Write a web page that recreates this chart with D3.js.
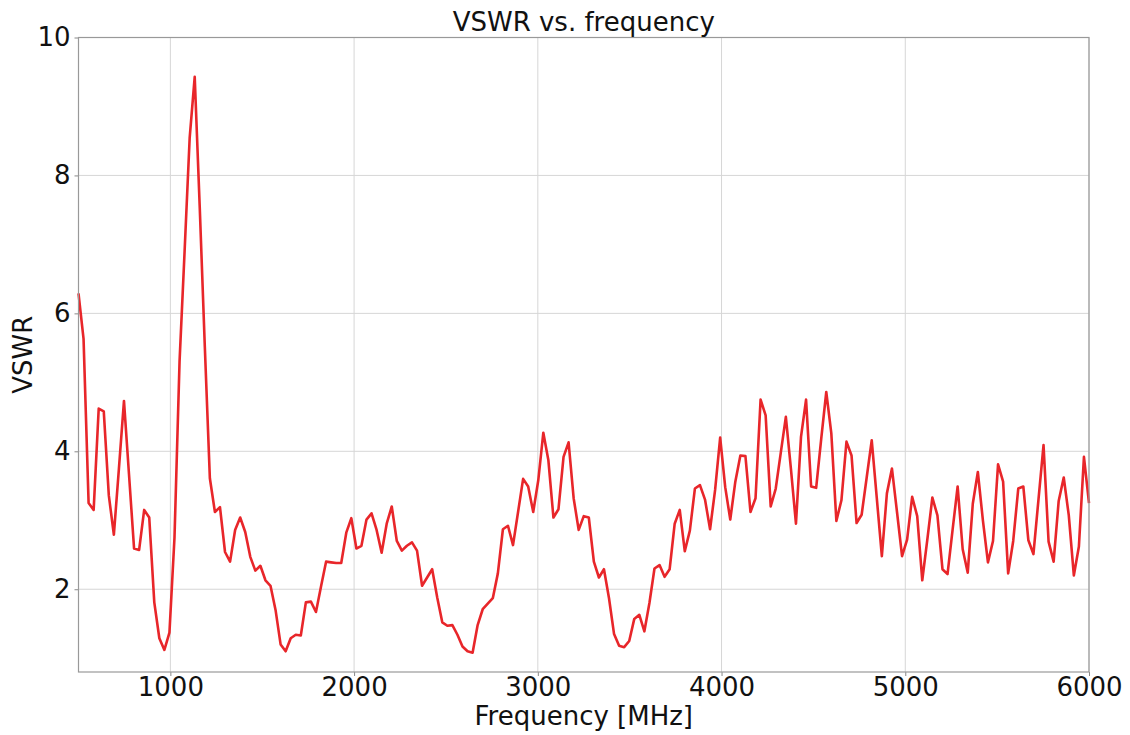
<!DOCTYPE html>
<html>
<head>
<meta charset="utf-8">
<script src="https://cdn.jsdelivr.net/npm/d3@7"></script>
<style>
  body { margin: 0; background: #fff; }
  svg text { font-family: "DejaVu Sans", sans-serif; fill: #111; }
</style>
</head>
<body>
<div id="chart"></div>
<script>
// frequency sweep: 500 .. 6000 MHz, 201 points (27.5 MHz step)
const fStart = 500;
const fStep = 27.5;

const vswr = [
  6.29, 5.63, 3.25, 3.15, 4.62, 4.58, 3.36, 2.79, 3.75, 4.73,
  3.66, 2.59, 2.57, 3.15, 3.04, 1.81, 1.29, 1.12, 1.37, 2.75,
  5.30, 6.90, 8.54, 9.43, 7.53, 5.52, 3.61, 3.12, 3.19, 2.54,
  2.40, 2.86, 3.04, 2.83, 2.47, 2.27, 2.34, 2.13, 2.05, 1.70,
  1.20, 1.10, 1.29, 1.34, 1.33, 1.81, 1.82, 1.67, 2.04, 2.40,
  2.39, 2.38, 2.38, 2.82, 3.03, 2.59, 2.63, 3.01, 3.10, 2.86,
  2.53, 2.95, 3.20, 2.70, 2.56, 2.63, 2.68, 2.56, 2.05, 2.17,
  2.29, 1.88, 1.52, 1.47, 1.48, 1.34, 1.17, 1.10, 1.08, 1.48,
  1.71, 1.79, 1.87, 2.23, 2.87, 2.92, 2.64, 3.12, 3.60, 3.49,
  3.12, 3.58, 4.27, 3.87, 3.04, 3.16, 3.92, 4.13, 3.32, 2.86,
  3.06, 3.04, 2.40, 2.17, 2.29, 1.87, 1.35, 1.18, 1.16, 1.25,
  1.57, 1.63, 1.39, 1.80, 2.30, 2.35, 2.18, 2.29, 2.95, 3.15,
  2.55, 2.85, 3.46, 3.51, 3.30, 2.87, 3.44, 4.20, 3.48, 3.01,
  3.56, 3.94, 3.93, 3.12, 3.32, 4.75, 4.52, 3.20, 3.46, 3.98,
  4.50, 3.75, 2.95, 4.21, 4.75, 3.49, 3.47, 4.18, 4.86, 4.26,
  2.99, 3.29, 4.14, 3.94, 2.96, 3.08, 3.62, 4.16, 3.32, 2.48,
  3.39, 3.75, 3.12, 2.48, 2.72, 3.34, 3.06, 2.13, 2.72, 3.33,
  3.07, 2.29, 2.22, 2.86, 3.49, 2.58, 2.24, 3.24, 3.70, 3.00,
  2.39, 2.70, 3.81, 3.56, 2.23, 2.70, 3.46, 3.49, 2.71, 2.51,
  3.30, 4.09, 2.69, 2.40, 3.28, 3.62, 3.07, 2.20, 2.62, 3.92,
  3.25
];
const freq = vswr.map((_, i) => fStart + i * fStep);

const xTicks = [1000, 2000, 3000, 4000, 5000, 6000];
const yTicks = [2, 4, 6, 8, 10];

const width = 1130, height = 735;
const margin = { top: 37.5, right: 41, bottom: 63, left: 78.5 };
const innerW = width - margin.left - margin.right;
const innerH = height - margin.top - margin.bottom;
const fontSize = "26px";

const svg = d3.select("#chart").append("svg")
  .attr("width", width).attr("height", height);

const g = svg.append("g")
  .attr("transform", `translate(${margin.left},${margin.top})`);

const x = d3.scaleLinear().domain([500, 6000]).range([0, innerW]);
const y = d3.scaleLinear().domain([0.8, 10]).range([innerH, 0]);

// grid
g.append("g")
  .selectAll("line")
  .data(xTicks)
  .join("line")
  .attr("x1", d => x(d)).attr("x2", d => x(d))
  .attr("y1", 0).attr("y2", innerH)
  .attr("stroke", "#d6d6d6").attr("stroke-width", 1);

g.append("g")
  .selectAll("line")
  .data(yTicks)
  .join("line")
  .attr("x1", 0).attr("x2", innerW)
  .attr("y1", d => y(d)).attr("y2", d => y(d))
  .attr("stroke", "#d6d6d6").attr("stroke-width", 1);

// data line
g.append("path")
  .datum(vswr)
  .attr("fill", "none")
  .attr("stroke", "#e8262a")
  .attr("stroke-width", 2.6)
  .attr("stroke-linejoin", "round")
  .attr("d", d3.line().x((d, i) => x(freq[i])).y(d => y(d)));

// axes
const xAxis = g.append("g")
  .attr("transform", `translate(0,${innerH})`)
  .call(d3.axisBottom(x).tickValues(xTicks).tickSize(4).tickPadding(2).tickFormat(d3.format("d")));
const yAxis = g.append("g")
  .call(d3.axisLeft(y).tickValues(yTicks).tickSize(4).tickPadding(4).tickFormat(d3.format("d")));

[xAxis, yAxis].forEach(a => {
  a.select(".domain").remove();
  a.selectAll("line").attr("stroke", "#888");
  a.selectAll("text").style("font-size", fontSize).attr("fill", "#111");
});

// frame
g.append("rect")
  .attr("width", innerW).attr("height", innerH)
  .attr("fill", "none").attr("stroke", "#999").attr("stroke-width", 1.2);

// labels
svg.append("text")
  .attr("x", margin.left + innerW / 2).attr("y", 31)
  .attr("text-anchor", "middle").style("font-size", fontSize)
  .text("VSWR vs. frequency");

svg.append("text")
  .attr("x", margin.left + innerW / 2).attr("y", 725)
  .attr("text-anchor", "middle").style("font-size", fontSize)
  .text("Frequency [MHz]");

svg.append("text")
  .attr("transform", `translate(32,${margin.top + innerH / 2}) rotate(-90)`)
  .attr("text-anchor", "middle").style("font-size", fontSize)
  .text("VSWR");
</script>
</body>
</html>
